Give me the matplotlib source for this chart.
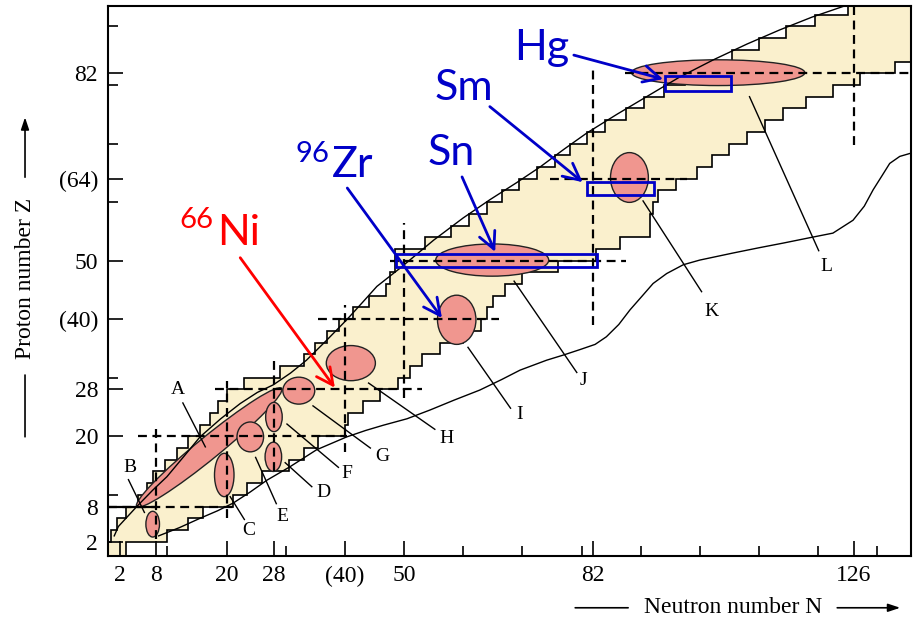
import matplotlib
matplotlib.use('Agg')
import matplotlib.pyplot as plt
from matplotlib.patches import Ellipse, Rectangle, Polygon

# nuclide band: rows of 2 in Z, N range covered by each row
band_z = [-1, 2, 4, 6, 8, 10, 12, 14, 16, 18, 20, 22, 24, 26, 28, 30, 32, 34, 36, 38,
          40, 42, 44, 46, 48, 50, 52, 54, 56, 58, 60, 62, 64, 66, 68, 70, 72, 74, 76, 78,
          80, 82, 84, 86, 88, 90, 92]
band_n_left = [0, 0.5, 1.5, 3, 5, 6.5, 7.6, 9.5, 11.6, 13.5, 15.5, 17.2, 18.6, 20, 23,
               29, 33, 35, 37, 39, 41.4, 44, 47, 47.6, 48.5, 48.5, 53.5, 58, 61, 64,
               66.5, 69.5, 72.5, 75.5, 78, 81, 84, 87.5, 90.5, 94, 97.5, 101.5, 105.5, 110,
               114.5, 119.5, 125]
band_n_right = [3, 10, 13.5, 16, 21, 23.5, 26, 30.5, 33, 35.5, 40, 40.5, 43, 46, 49, 51,
                53, 56, 60, 63, 64, 65, 67, 70, 76, 82.5, 86.5, 91.5, 91.5, 92, 93, 96,
                99.5, 102, 105, 108, 111, 114, 118, 122.5, 127, 133, 136, 136, 136, 136, 136]

# drip lines
pdrip_n = [1.0, 1.7, 4.8, 7.5, 9.9, 12.8, 15.5, 19.0, 22.3, 25.2, 27.9, 30.8, 33.5, 37.0,
           40.3, 43.0, 45.4, 49.3, 55, 60, 64.5, 69, 73, 77, 80.9, 86, 91, 96.5, 102.3,
           108, 113.5, 119, 124.2]
pdrip_z = [3.0, 4.6, 8.0, 10.8, 13.1, 16.6, 19.9, 23.0, 25.6, 27.5, 28.8, 30.8, 33.0, 36.5,
           39.9, 42.9, 45.6, 48.7, 53.5, 57.3, 60.4, 63.3, 66, 69.0, 71.8, 75.0, 78, 81.3,
           84.3, 87.0, 89.4, 91.6, 93.4]
ndrip_n = [8.5, 12.0, 15.5, 18.5, 21.1, 24.0, 26.8, 30.7, 35.2, 40.3, 43.5, 46.5, 50.5,
           54.4, 58.5, 62.8, 66.5, 69.6, 74.1, 77.0, 79.7, 82.3, 84.2, 86.3, 88.2, 90.2,
           92.1, 94.4, 97.2, 100, 105.6, 110, 114.1, 118.5, 122.5, 125.9, 127.8, 129.3,
           130.8, 132.1, 133.8, 135.5, 137]
ndrip_z = [3.0, 4.4, 6.0, 7.3, 8.6, 10.5, 12.5, 14.8, 17.7, 19.9, 21.0, 21.9, 23.0,
           24.5, 26.2, 27.9, 29.7, 31.3, 33.0, 33.9, 34.8, 35.7, 37.0, 39.1, 41.6, 43.9,
           46.1, 47.8, 49.3, 50.1, 51.3, 52.2, 53.0, 53.9, 54.7, 56.9, 59.3, 62.1,
           64.5, 66.6, 67.8, 68.3, 68.6]

# magic number guide lines
hline_z = [8, 20, 28, 40, 50, 64, 82]
hline_n0 = [0, 5, 18, 35.5, 47.6, 74.7, 87.3]
hline_n1 = [21, 40.3, 53, 66, 87.6, 97.8, 136]
vline_n = [8, 20, 28, 40, 50, 82, 126]
vline_z0 = [2.5, 6, 14, 17.4, 26.6, 39, 69.7]
vline_z1 = [21.4, 29.5, 33.4, 42.4, 56.4, 82.9, 93.5]

# regions A-L
ell_labels = ['A', 'B', 'C', 'D', 'E', 'F', 'G', 'H', 'I', 'J', 'K', 'L']
ell_n = [17.05, 7.5, 19.6, 27.9, 24.0, 28.0, 32.2, 41.0, 58.9, 64.9, 88.1, 103.1]
ell_z = [18.1, 5.0, 13.4, 16.5, 19.9, 23.3, 27.8, 32.5, 39.9, 50.1, 64.2, 82.1]
ell_w = [31.75, 2.3, 3.3, 2.8, 4.5, 2.8, 5.4, 8.3, 6.5, 19.1, 6.4, 29.3]
ell_h = [3.8, 4.4, 7.4, 5.0, 5.1, 5.0, 4.6, 6.0, 8.4, 5.5, 8.5, 4.4]
ell_angle = [39.5, 0, 0, 0, 0, 0, 0, 0, 0, 0, 0, 0]
lab_n = [11.7, 3.7, 23.7, 36.3, 29.5, 40.3, 46.4, 57.2, 69.5, 80.4, 102.0, 121.4]
lab_z = [28.0, 14.7, 3.9, 10.4, 6.3, 13.6, 16.5, 19.7, 23.7, 29.6, 41.3, 49.0]
lead_n0 = [12.6, 3.4, 23.0, 34.4, 28.4, 38.9, 44.3, 55.2, 68.0, 79.2, 100.3, 120.1]
lead_z0 = [25.7, 12.6, 5.8, 11.4, 8.5, 14.7, 18.0, 21.2, 24.8, 30.9, 44.7, 51.7]
lead_n1 = [16.4, 6.1, 20.6, 29.9, 24.9, 30.2, 34.6, 44.0, 60.8, 68.6, 90.4, 108.4]
lead_z1 = [18.2, 7.0, 9.7, 15.5, 16.4, 22.1, 25.2, 29.1, 35.2, 46.5, 60.2, 78.0]

# blue boxes (Sn, Sm, Hg)
box_n0 = [48.6, 81.0, 94.1]
box_n1 = [82.6, 92.2, 105.3]
box_z0 = [48.9, 61.2, 79.0]
box_z1 = [51.1, 63.5, 81.5]

# element labels and arrows
elem_names = ['Hg', 'Sm', 'Sn']
elem_n = [73.2, 60.1, 57.9]
elem_z = [84.3, 77.5, 66.4]
arrow_tail_n = [78.7, 64.5, 59.8, 40.4, 22.3]
arrow_tail_z = [85.1, 76.3, 64.3, 62.4, 50.5]
arrow_tip_n = [93.8, 80.2, 65.4, 56.4, 38.3]
arrow_tip_z = [81.0, 63.4, 51.5, 40.2, 28.3]
arrow_colors = ['#0000c8', '#0000c8', '#0000c8', '#0000c8', '#ff0000']

x_ticks = [2, 8, 20, 28, 40, 50, 82, 126]
x_ticklabels = ['2', '8', '20', '28', '(40)', '50', '82', '126']
x_minor = [10, 30, 60, 70, 80, 90, 100, 110, 120, 130]
y_ticks = [2, 8, 20, 28, 40, 50, 64, 82]
y_ticklabels = ['2', '8', '20', '28', '(40)', '50', '(64)', '82']
y_minor = [10, 30, 60, 70, 80, 90]

serif = 'Liberation Serif'
blue = '#0000c8'
cream = '#faf0cd'
pink = '#f0968f'

fig = plt.figure(figsize=(9.13, 6.24), dpi=100)
ax = fig.add_axes([0.118, 0.1095, 0.8798, 0.8814])
ax.set_xlim(-0.1, 135.7)
ax.set_ylim(-0.38, 93.54)

# staircase band
top = 95
verts = []
for k in range(len(band_z)):
    z1 = band_z[k + 1] if k + 1 < len(band_z) else top
    verts += [(band_n_left[k], band_z[k]), (band_n_left[k], z1)]
for k in reversed(range(len(band_z))):
    z1 = band_z[k + 1] if k + 1 < len(band_z) else top
    verts += [(band_n_right[k], z1), (band_n_right[k], band_z[k])]
ax.add_patch(Polygon(verts, closed=True, facecolor=cream, edgecolor='black',
                     linewidth=1.2, zorder=1))

for i in range(len(ell_labels)):
    ax.add_patch(Ellipse((ell_n[i], ell_z[i]), ell_w[i], ell_h[i], angle=ell_angle[i],
                         facecolor=pink, edgecolor='#222222', linewidth=1.0, zorder=2))
    ax.plot([lead_n0[i], lead_n1[i]], [lead_z0[i], lead_z1[i]], color='black',
            linewidth=1.0, zorder=3)
    ax.text(lab_n[i], lab_z[i], ell_labels[i], family=serif, fontsize=14,
            ha='center', va='center', zorder=3)

ax.plot(pdrip_n, pdrip_z, color='black', linewidth=1.0, zorder=3)
ax.plot(ndrip_n, ndrip_z, color='black', linewidth=1.0, zorder=3)

for i in range(len(hline_z)):
    ax.plot([hline_n0[i], hline_n1[i]], [hline_z[i], hline_z[i]], color='black',
            linewidth=1.6, dashes=(4, 2.5), zorder=4)
for i in range(len(vline_n)):
    ax.plot([vline_n[i], vline_n[i]], [vline_z0[i], vline_z1[i]], color='black',
            linewidth=1.6, dashes=(4, 2.5), zorder=4)
ax.plot([0, 8], [8, 8], color='black', linewidth=1.6, zorder=4)

for i in range(len(box_n0)):
    ax.add_patch(Rectangle((box_n0[i], box_z0[i]), box_n1[i] - box_n0[i],
                           box_z1[i] - box_z0[i], fill=False, edgecolor=blue,
                           linewidth=2.0, zorder=5))

for i in range(len(arrow_tip_n)):
    ax.annotate('', xy=(arrow_tip_n[i], arrow_tip_z[i]),
                xytext=(arrow_tail_n[i], arrow_tail_z[i]),
                arrowprops=dict(arrowstyle='->,head_length=0.6,head_width=0.3',
                                color=arrow_colors[i], lw=2.0, mutation_scale=20,
                                shrinkA=0, shrinkB=0), zorder=6)

for i in range(len(elem_names)):
    ax.text(elem_n[i], elem_z[i], elem_names[i], family='Lato', fontsize=31,
            color=blue, ha='center', va='baseline', zorder=6)
ax.text(31.6, 66.85, '96', family='Lato', fontsize=21, color=blue, va='baseline')
ax.text(37.8, 64.3, 'Zr', family='Lato', fontsize=31, color=blue, va='baseline')
ax.text(11.96, 55.5, '66', family='Lato', fontsize=21, color='#ff0000', va='baseline')
ax.text(18.4, 52.7, 'Ni', family='Lato', fontsize=31, color='#ff0000', va='baseline')

ax.set_xticks(x_ticks)
ax.set_xticklabels(x_ticklabels, family=serif, fontsize=17)
ax.set_xticks(x_minor, minor=True)
ax.set_yticks(y_ticks)
ax.set_yticklabels(y_ticklabels, family=serif, fontsize=17)
ax.set_yticks(y_minor, minor=True)
ax.tick_params(which='both', direction='in', width=1.2, top=False, right=False)
ax.tick_params(which='major', length=11, pad=7)
ax.tick_params(which='minor', length=7)
for sp in ax.spines.values():
    sp.set_linewidth(1.5)

# axis titles with their lines and arrows
fig.text(0.0274, 0.553, 'Proton number Z', family=serif, fontsize=17,
         rotation=90, ha='center', va='center')
ax.annotate('', xy=(0.0274, 0.300), xytext=(0.0274, 0.399), xycoords='figure fraction',
            arrowprops=dict(arrowstyle='-', lw=1.2, color='black', shrinkA=0, shrinkB=0),
            annotation_clip=False)
ax.annotate('', xy=(0.0274, 0.812), xytext=(0.0274, 0.716), xycoords='figure fraction',
            arrowprops=dict(arrowstyle='-|>,head_length=0.6,head_width=0.2', lw=1.2,
                            color='black', shrinkA=0, shrinkB=0, mutation_scale=12),
            annotation_clip=False)
fig.text(0.803, 0.026, 'Neutron number N', family=serif, fontsize=17,
         ha='center', va='center')
ax.annotate('', xy=(0.688, 0.026), xytext=(0.630, 0.026), xycoords='figure fraction',
            arrowprops=dict(arrowstyle='-', lw=1.2, color='black', shrinkA=0, shrinkB=0),
            annotation_clip=False)
ax.annotate('', xy=(0.986, 0.026), xytext=(0.917, 0.026), xycoords='figure fraction',
            arrowprops=dict(arrowstyle='-|>,head_length=0.6,head_width=0.2', lw=1.2,
                            color='black', shrinkA=0, shrinkB=0, mutation_scale=12),
            annotation_clip=False)

fig.savefig('out.png', dpi=100)
